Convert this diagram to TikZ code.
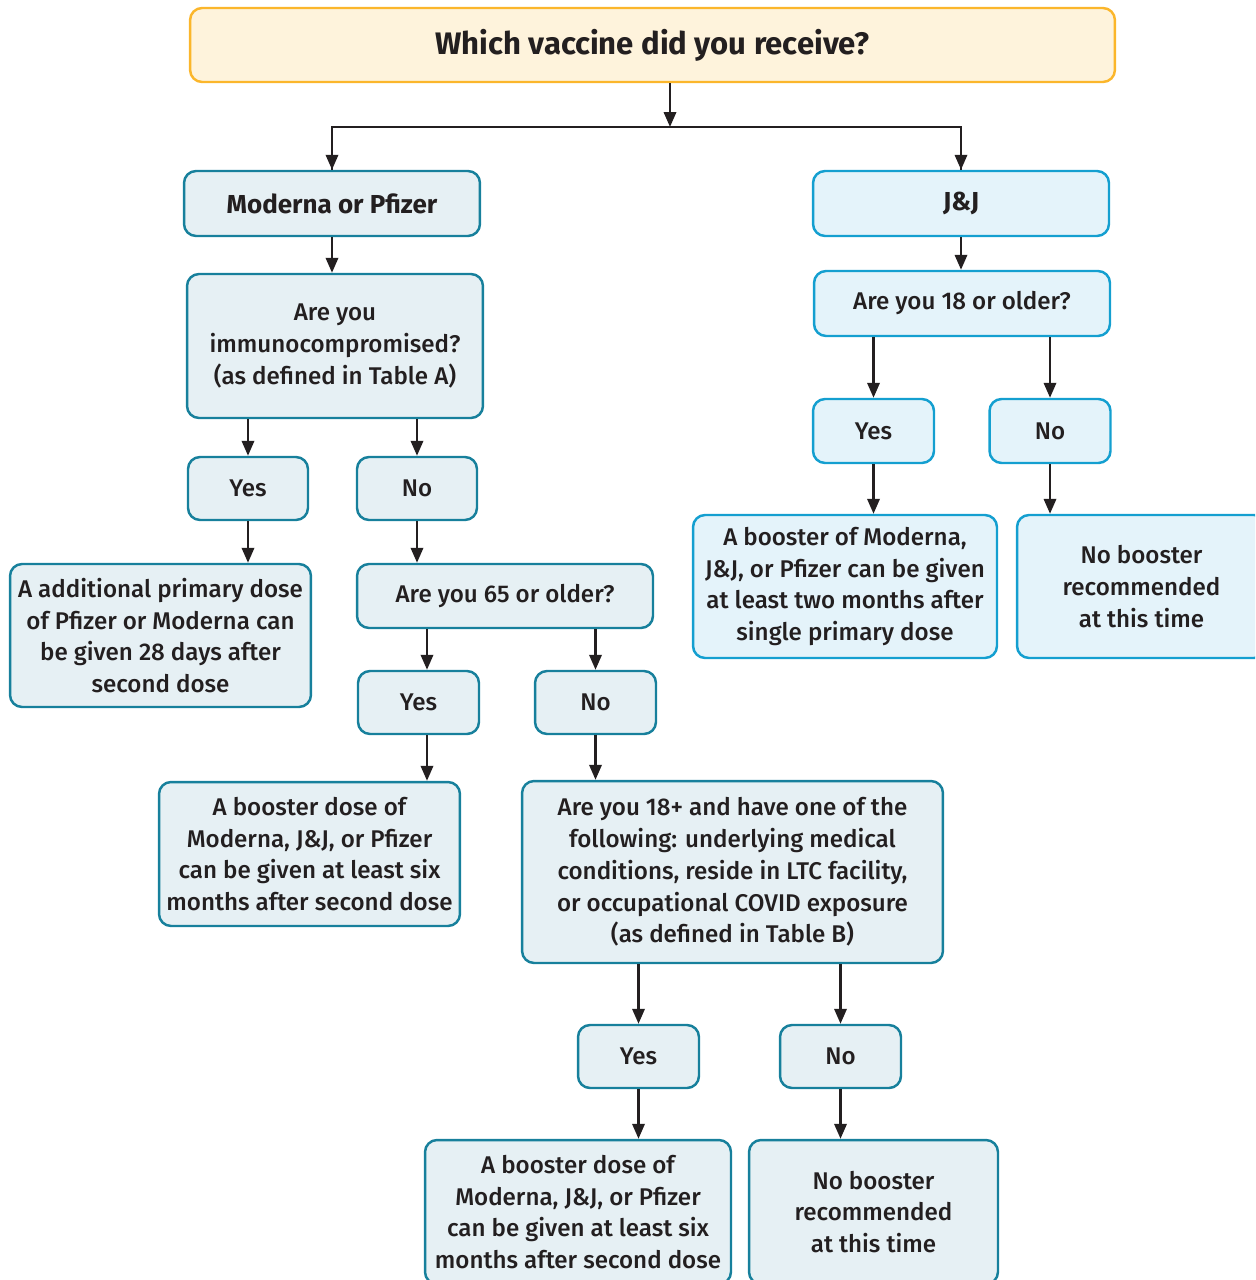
\documentclass[tikz,border=0pt]{standalone}
\usepackage{fontspec}
\setmainfont{Fira Sans}
\newfontfamily\semib{Fira Sans Medium}
\usetikzlibrary{arrows.meta}
\tikzset{>={Stealth[inset=0pt,length=8.5pt,width=7pt]}}
\definecolor{ink}{HTML}{231F20}
\definecolor{tealline}{HTML}{17809C}
\definecolor{tealfill}{HTML}{E6F0F4}
\definecolor{skyline}{HTML}{149FD0}
\definecolor{skyfill}{HTML}{E4F3FA}
\definecolor{goldline}{HTML}{FBB62B}
\definecolor{goldfill}{HTML}{FEF3DC}

\begin{document}
\begin{tikzpicture}[x=0.02cm,y=-0.02cm,
    box/.style={draw=tealline,fill=tealfill,line width=1.4pt,rounded corners=0.24cm,align=center,text=ink,inner sep=0pt,font=\fontsize{13.75}{18.1}\selectfont\semib},
    jjbox/.style={box,draw=skyline,fill=skyfill},
    headbox/.style={font=\fontsize{14.8}{18.1}\selectfont\bfseries},
    link/.style={->,line width=1.4pt,draw=ink}]
    \useasboundingbox (0,0) rectangle (1255,1280);
    \clip (0,0) rectangle (1255,1280);
    \node [box,draw=goldline,fill=goldfill,minimum width=18.5cm,minimum height=1.48cm,font=\fontsize{17.7}{20}\selectfont\bfseries] (top) at (652.5,45) {Which vaccine did you receive?};
    \node [box,headbox,minimum width=5.92cm,minimum height=1.3cm] (mp) at (332,203.5) {Moderna or Pfizer};
    \node [jjbox,headbox,minimum width=5.92cm,minimum height=1.3cm] (jj) at (961,203.5) {J\&J};
    \node [box,minimum width=5.92cm,minimum height=2.88cm] (imm) at (335,346) {Are you\\immunocompromised?\\(as defined in Table A)};
    \node [jjbox,minimum width=5.92cm,minimum height=1.3cm] (old18) at (962,303.5) {Are you 18 or older?};
    \node [box,minimum width=2.4cm,minimum height=1.26cm] (yes1) at (248,488.5) {Yes};
    \node [box,minimum width=2.4cm,minimum height=1.26cm] (no1) at (417,488.5) {No};
    \node [box,minimum width=6.02cm,minimum height=2.86cm] (addl) at (160.5,635.5) {A additional primary dose\\of Pfizer or Moderna can\\be given 28 days after\\second dose};
    \node [box,minimum width=5.92cm,minimum height=1.28cm] (old65) at (505,596) {Are you 65 or older?};
    \node [box,minimum width=2.42cm,minimum height=1.26cm] (yes2) at (418.5,702.5) {Yes};
    \node [box,minimum width=2.42cm,minimum height=1.26cm] (no2) at (595.5,702.5) {No};
    \node [box,minimum width=6.02cm,minimum height=2.88cm] (bst1) at (309.5,854) {A booster dose of\\Moderna, J\&J, or Pfizer\\can be given at least six\\months after second dose};
    \node [box,minimum width=8.42cm,minimum height=3.64cm] (cond) at (732.5,872) {Are you 18+ and have one of the\\following: underlying medical\\conditions, reside in LTC facility,\\or occupational COVID exposure\\(as defined in Table B)};
    \node [box,minimum width=2.42cm,minimum height=1.26cm] (yes3) at (638.5,1056.5) {Yes};
    \node [box,minimum width=2.42cm,minimum height=1.26cm] (no3) at (840.5,1056.5) {No};
    \node [box,minimum width=6.12cm,minimum height=2.88cm] (bst2) at (578,1212) {A booster dose of\\Moderna, J\&J, or Pfizer\\can be given at least six\\months after second dose};
    \node [box,minimum width=4.98cm,minimum height=2.88cm] (nob2) at (873.5,1212) {No booster\\recommended\\at this time};
    \node [jjbox,minimum width=2.42cm,minimum height=1.28cm] (yes4) at (873.5,431) {Yes};
    \node [jjbox,minimum width=2.42cm,minimum height=1.28cm] (no4) at (1050,431) {No};
    \node [jjbox,minimum width=6.08cm,minimum height=2.86cm] (bst3) at (845,586.5) {A booster of Moderna,\\J\&J, or Pfizer can be given\\at least two months after\\single primary dose};
    \node [jjbox,minimum width=4.98cm,minimum height=2.86cm] (nob1) at (1141.5,586.5) {No booster\\recommended\\at this time};
    \coordinate (split) at (670,127);
    \coordinate (mid65) at (427,0);
    \draw [link] (top.south -| split) -- (split);
    \draw [link,-] (split) -| (mp.north);
    \draw [link,-] (split) -| (jj.north);
    \draw [link] (split -| mp) -- (mp.north);
    \draw [link] (split -| jj) -- (jj.north);
    \draw [link] (mp.south) -- (imm.north -| mp);
    \draw [link] (jj.south) -- (old18.north -| jj);
    \draw [link] (imm.south -| yes1) -- (yes1.north);
    \draw [link] (imm.south -| no1) -- (no1.north);
    \draw [link] (yes1.south) -- (addl.north -| yes1);
    \draw [link] (no1.south) -- (old65.north -| no1);
    \draw [link] (old65.south -| mid65) -- (yes2.north -| mid65);
    \draw [link] (yes2.south -| mid65) -- (bst1.north -| mid65);
    \draw [link] (old65.south -| no2) -- (no2.north);
    \draw [link] (no2.south) -- (cond.north -| no2);
    \draw [link] (cond.south -| yes3) -- (yes3.north);
    \draw [link] (cond.south -| no3) -- (no3.north);
    \draw [link] (yes3.south) -- (bst2.north -| yes3);
    \draw [link] (no3.south) -- (nob2.north -| no3);
    \draw [link] (old18.south -| yes4) -- (yes4.north);
    \draw [link] (old18.south -| no4) -- (no4.north);
    \draw [link] (yes4.south) -- (bst3.north -| yes4);
    \draw [link] (no4.south) -- (nob1.north -| no4);
\end{tikzpicture}
\end{document}
